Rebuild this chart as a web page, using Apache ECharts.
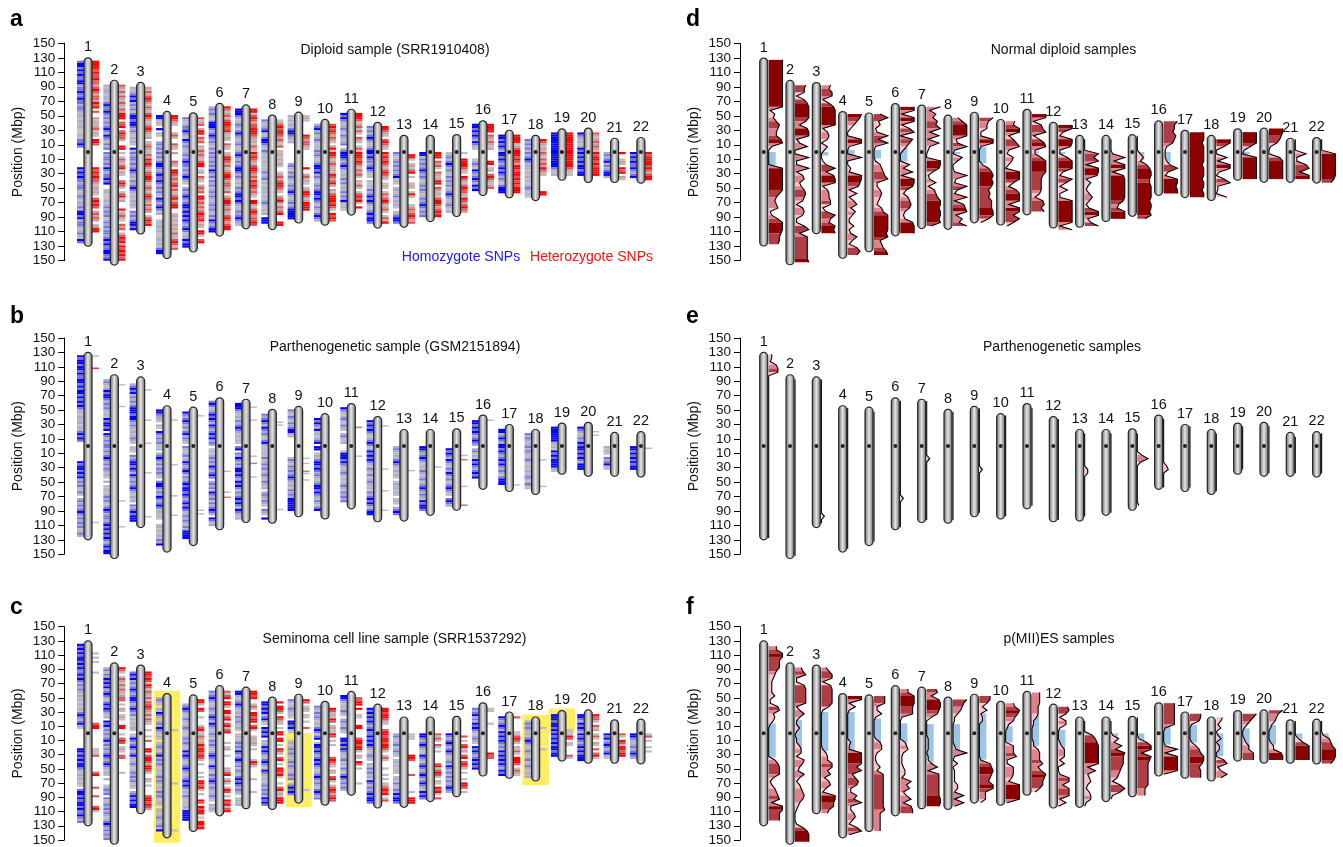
<!DOCTYPE html>
<html><head><meta charset="utf-8"><style>html,body{margin:0;padding:0;background:#fff}#c{width:1343px;height:847px}</style>
<script src="https://cdn.jsdelivr.net/npm/echarts@6/dist/echarts.min.js"></script></head><body><div id="c"></div>
<script>
const chromosomes=[1,2,3,4,5,6,7,8,9,10,11,12,13,14,15,16,17,18,19,20,21,22];
const pArm=[130,99,96,56,54,67,65,51,55,45,59,41,23,23,24,43,30,23,32,33,19,20];
const qArm=[130,156,113,147,138,116,106,107,98,101,87,105,104,96,89,60,63,67,39,42,42,43];
const tickValues=[-150,-130,-110,-90,-70,-50,-30,-10,10,30,50,70,90,110,130,150];
const panelTitles=["Diploid sample (SRR1910408)","Parthenogenetic sample (GSM2151894)","Seminoma cell line sample (SRR1537292)","Normal diploid samples","Parthenogenetic samples","p(MII)ES samples"];
const panelLetters=["a","b","c","d","e","f"];
const legendLabels=["Homozygote SNPs","Heterozygote SNPs"];
// SNP stripes, 3 Mbp per character, "p arm|q arm" (B strong, M medium, L pale, g grey, . none)
const aHom=["BMBBMBMBMMBBLMMBMMBMMLMMLgLgLLgLgggLgMMBM..|.......BMBMBMMLMMLgLMLgLLMLBBMBLMMLgLMLgBMLg","LgLLgLLgMBMMBMLMLMLMBMLBMLgMLM.|MLMMLMLBMLMMBMB..gLgggLgLMLMLMgLMLMLMMLMBMBMMBBMMB","LgLMBMBLMLMgMBBMBBMLMLgLgLg.Bg|MLMMLMLMBMLLgMLMBMLgLgLgLg.MLMLMBBMB","BBgLg.B.Lg..LMLMg|MLMgMBBMLMBMMBMLMLMLgBMLMBMgL..gLgLgLgggLgLgMBB","MLgLMMBMLgBMLMLg|LMLMBMMLMLMBMLg.LMLMBMLMBBMBMBMBMLMBMgLLBMBB","LMLMLgLBBBMLMBMLMLgMg|MLMLMLMLBMLMgMLMgLMLMLgLMLMLgMLBMLMBB","BBBMLgLMLgMBMLgLMLgL|MBMLMLMBBMLMLgLgMLMBBMBMLgLMLMBMLg","MLgLMBLgMBBMLgM|LgLgLgggLMgLMgLgLgLgLgLMLgLgL.BBB.","LgLgLgMBBMLgL....|.....LMLgMLMLgLMLMBMLgLMLMBBBBBM","LMBLMgLMLgLgM|LMLgLMBBMBLMLgLMLMBBMBMLgMLgMBML","BMBMLgLMLgMLgLM.gM|BBBMLMBMLgLgMLMgLgMLMLBLgLg","MLMLMBMLgLMB|BMBMMLMBMLgg.LgLgMLMBMBMLgLMBMBBM","|MLgLMLMLMLMBgLg.gLgLMgLgLg.gLMBBM","|BBgMLMLMBMLMLgLMLMLgLMLMBMLMLM","|gLMLMBMLMLgMLMLMgLMBMLgLMLgLg","BBMBMBMLBMLg.|...gLMLgBMLMBMLBMB","BBMBMBML|BBMBMLMBMBMLMLgMBBB","MLMLMg|MLMBMgLLgLgLgLgLMLgLg","BBBBBBBBB|BBBBBBBMLgL","BMLgLgLBM|BMBMBMBBMBB","|LMLMBLMLMBBL","|BMBMBMMBMLMB"];
const aHet=["BBBBBMBMMBMMLMBMLMMLBMB.M..LgLgLMgLg.BBM...|.......BMBMBMMLgLgLg.MBMBM.LMLML.gLBB","MLgMgMLgMLgMLBBB.MMB.MBMML..BB.|g.gMLgMBgLg..MBMg.gMBgL...BgLMLg.MLM.gMBMBLBMBMBMB","LgMLMBMLgMLgMBMLgLMBMLgL.gLMLg|gMLBMBMLgMMBBMgLMLgMBMLgMLML.gMBMB","BBMLg...LMg..MLg.|L...MLg.BBMLMLMBLMgLMBLMBB..gLgLgLgLgMLgMBMgM","MgLM.LBB.MLM.LgM|LMLgMBB.gL.MLg.LMLM.BBLMLMLMBMMBgLg.BBg.MB","BMgLMgMBBMMBLgLg.MLg.|gLBBMLMgLMBBMLMMLgM.LMBBMLMLgMBMLMBB","BBgMBMLMMBBBMLgLgMLg|BMBMLgMBBMLMLBMBMLMLg.BBLgMBMLMMBML","gLMBMBBMLMLgM.g|gLgLgLg..gLMLMBBMLg.LMBLgMLMB...BB","gLg......BMLMMLg.|.......B..LMgLg.gLBBMgLBBBB","MBMBMLMLg.LBg|BBMgLMLgLgBMLMBL.LgMBBBMBMg.BMBM","BBBMgLMgMg.MLg.gMg|BBBMBMLgMLMg.LgMg.gMBMBg.B","BBMLg.MBMLg.|BMBMBMLgMBMLg.gLg.gMLMBMgLMg.gMLB","|.BBg.gLgMB.g..gLg.gBL...gLMLMBMLM","|BBB.MLMg.MLgLBB.MLgLgMBBMLMBMB","|g..BBBBMLg.BMLgMBMMLgBMLMBMLg","BBBB.MLgMLgL.|....BB.gL.MBMLgLM","BBBBgLMB|BBMBMLBBMBBMBMBMBBB","BMLgLg|MLgMLMLBMLg.......BB","BBBBBBBBB|BBBBBBBMLgg","MLgLMLMLg|BMBBMBMBBBB","|B..gLg.BMB.Lg","|BMBBBBMBMLMBB"];
const bHom=["BMBBMBBMBMMBBMBMBBMBMBMBMLLgLgLLgLgMBMBM..|.......BMBBMBMBLMLMgLMg.LMLMLMBMLMLMLMgLML","LMLgLBMBBMLMLMLgLgBMBBMB.BMLMLM|MLMLMBMLMLMLgLg.L.ggLgLMLMgLMBMLMMLMBMBMBMBMLMBMBB","LMBMBLMLMgMBBBMBBMLMLgLgLMLg.|gLg.MLMBBMBMLBMLMLMBMLgLgL.MLMBMBBB","BBMLLg.Lg.BMLMLMg|gL.LMBMLMgMLMLg.MBBMLMLBMLMBMgLgLg..gLgLgLgMLB","BMLMBMLMgMBLMLg.|MLgLMgLBMLMBMgMLMBMBBMBMLMBMBMgLMLMLgMLBBBB","MBMgLMBMBMLBMLMBMBLML|.gLgLMLMLBMLMBM.LMLMgBMLMgMLMBML.BMgL","BBBMLgLgMLMBMLgLgLg.|MB.MLBMLMLBBMBMLBMBMgMLMBMBMgBMLgLg","MLMBMLBMLMLgMBL|gLgLgMgLMLMgLMLgMLgL.LMLgMLg.MLg.BB.","MLgMLgMLMBBLg....|.....gMLgMLMLMBMLgLgMLMLBBBBBB","BMBMLBgLgLMB.|BB.gLgMBBMBMLMLgLMBBMBMLgMLgMB","BMLgLMLgMLg.LMLgL.|..gBBBMBMLgLMLgLgLMLgMLMLM","BMBMBMLgLMBM|gLBMBMBMLgMLgMgLMLgLgMLMBMBMgMBB","|LMLgLgMBMLgLgLg.gLgLgLg.gLg.LMBM","|BBMLMBMLgLgMLgLMgLMBMLMLgBMBBM","|.BMBMLBMLgMLBMLMgLMBMLg.MBMLB","BBMBMBMLMBML|.LMgLgBMBMLMBMB","BBLMBMLB|BMBMLMBMBMLMLgMBBB","MLMLgL|MLMLgLMLgLgLgLMLgMLg","BBBBBBBLg|LgBMBMBBBBLg","BMLgLMLBM|BBMBMBMLBBB","|LgLg.MLMBLg","|BBMBMBMBMBB"];
const cHom=["BMBMBMBBMBMBMMBMBMLMLMLgLgLgLgLgMBMLMBLg..|.......BBMBMBMBBMLgLgLgLg.MBBMBMBBMBMMBMLMB","LMgMLBMBMBLMBMLgMBMBMLgL.BMBLML|MLMBLMLMLMBMLMBMLgLg.L..gLMLM.MgLMLMLMLgLMBMLMLMLM","MBMBLMLMBMLMBBMLMBMLMgLgLgLg.|gLBMLMBMLMBLgLMLgLMLMLMgLg.LMBMBMBB","LMLg.LgBMLgLMLBML|gLg.gLMLgMBLMLMLgLgLMLMLgLgMLMLgLg.gLgLMLgLMLB","LMBMLgLMLgLMLg|gLMLMLgLBMBMLgLMBMLgLMBMBMgLgMLgLgLgBBBBB","MLMBMLgLMLgMBMLBMLgL|MLgMLMLgLMBMLgLBMLgMLMBMLMLgLMLg.LgLg","BBLgLMBMLgLgMLMLgLg.|gLgLMLMLBMLMBMLMgMLgMBMBMLMLg.gLgLg","BBMBMBLMBLg.BMB|MB.LgLBMBMLgMBMLgBMLgLgLMLMLMLBMBM","MLgLMLgLg.BBMBLg|...gLgLMLMLgLMLMLgLMLM.gMBMBM","MLgMLMLgLgMBM|gMB.gBBMBMLMBMBMLgLMBMLMLgMBMLM","BBMLgLgMLg.LMLgMLg|..BBMBMBMLgLMgLgMLgMBMLMLML","BMBMBMBMLMBM|MBMBMBMLgLMLg.LgMLMgLgBMLMLMBMBBM","|LMLgLMgLMLg.gLgLgLg.gLgMLgMLBMBBMB","|BBMLMBMLgLBMLgMBMLMBMLMBMLgBMBM","|BMLMBMLMBMLgLMLBMLMgMLMLMBMLg","MLMBLMLBMBML|gLMLg.BMBMLMBMBMB","BMLMBMLB|MBMBMLMLBMBMBMBMLBMBB","LMLMLg|LgMBMLgLMLgLMgLMLgLgL","BBBMBBMBM|BMBMBMBBMBB","BBMLBMBML|BMBMLMBMBMBBB","|BMBLMBMLMBLg","|BBMLgLMLMBML"];
const cHet=["....g.g.g....g.......................MBB..|.......gggM.......MB.....M...M....MBg.....g","BMg.gMLgMgMLgLMM.g.Lg.gLg..BB..|g.MBM.gLg.MM......g","BBMBMgBMgMLgMgMMBMLgMgMLg..g.|.g.M...BB.MBBMLBBMg..Lg.g....MBBMBML","...............g.|.......................g.....................g","BBg.BM..g...gMBg|gMLgLBMBBMBMg.g...g.g.BBMBg.g..BM.BMBB.g.BBMBB","MgMB.BBg.BBgMB.MBgMB|....g.gL..g.....LgMB.gMg.gBM.g.BMBgMB","BBMB..gMg.BBMBB.MBg.|.gLgLg.g....gBMg.....g.....g","B.BBMg.BMLg.g.B|B.BB.g.BMg.MB.g.BBMBg..g.MBgLgBBB","BM.gLg.gg.g..M..|..........................g",".BMgLgBM.gLgg|BM.g.g.....MBMLg.Lg.MBg.gMBMLMBM","MMBB.B..gg...BB..|..MBBMBBg.Lg.BM.g......g","BBMBBMLg..MB|BMBBMBBMg.gMg...g..g.g.gLMBMB.gM","|ggg.......BBM......M.......g..BBB","|MgMg.Mg.g.....MBgMBMg.Lg.BMBg.MBM","|.M.g.MBgL.MB.MBMg.g..g.BBM.g.B","gg.....g....|.........BMM","M......g|gMBMg.LgMg.BBBM.gMLg","...g..|.......g",".......gg|gBM.gg....Mg","BMMg.MgL.|gMg.Lg.M.MBg.","|Mg.BMgBBMBB","|gM.g..g.g"];
// Isolated right-hand ticks of panel b: chromosome, Mbp from centromere (p negative), kind
const bHetTicks=[[1,-125,"g"],[1,-108,"R"],[1,106,"g"],[2,-85,"g"],[2,-55,"g"],[2,76,"g"],[2,112,"g"],[3,-78,"g"],[3,-36,"g"],[3,-4,"g"],[3,37,"g"],[3,98,"g"],[4,-36,"g"],[4,26,"g"],[4,69,"g"],[4,96,"g"],[5,-42,"g"],[5,89,"g"],[5,94,"g"],[6,35,"g"],[6,64,"g"],[6,71,"D"],[7,-54,"g"],[7,-36,"g"],[7,14,"g"],[7,24,"D"],[7,43,"g"],[8,-33,"g"],[8,-29,"g"],[8,88,"g"],[9,17,"g"],[9,24,"g"],[9,35,"D"],[9,38,"g"],[9,47,"g"],[11,-26,"D"],[11,14,"g"],[12,-28,"g"],[12,32,"g"],[12,62,"g"],[12,89,"g"],[13,34,"g"],[14,29,"g"],[15,13,"g"],[15,19,"D"],[15,56,"g"],[15,82,"D"],[16,-36,"g"],[17,54,"g"],[18,19,"g"],[18,56,"g"],[20,-20,"g"],[20,-15,"g"],[22,3,"g"]];
// Yellow highlights of panel c: chromosome, from, to (Mbp)
const highlights=[[4,-60,154],[9,0,104],[18,-26,73],[19,-35,0]];
// Density profiles, 5 Mbp per digit (0-9), "p arm|q arm"
const dProfile=["99999999999999143576558920|00009999999754561269998776","7661689999738991380|0911915634676515651169388888889","6577158999991454042|00139389914556613965989","98642009910|09002199871614625311412631686","49341293910|00145679224543256999998945689","9919916908642|00062819984256763238999","9264769281821|009984126156799899893","3699992391|063001921931917892649","9655119910|00026898986768889961","659925792|154209995279992995951","99167915892|26999976666527868","99319981|1699931951611999999919","0000|969199814213531399249","0000|1929918999999854999","00000|2426899889999899895","977687621|112493199899","999899|9998999899899","9950|0719920591107","999951|09999999","9987510|07999999","0000|71179399","0000|999999986"];
const fProfile=["5599777543222241167343100|0000000467773124567299777","4571167777713631131|0113441653263134565321000158999","3577167777751000000|00001344774625631998854","99151000000|00211999969357622649224531691","77722510000|0145521124266666666667444444","5599988810000|00345211123317462472788","6738998730000|011110113718888888998","9765311000|000129103011113317171","77525122000|00000001789876994441","569865210|00055571155542999991","555544431100|00114555746987752","67515510|001244414001773777150","0000|578999999272342134410","0000|1527398887654169610","00000|016993987777777555","777777710|000191999990","776100|0014679986777","43130|1302200571373","975310|01244777","9654210|00133899","0000|02599999","0000|156799986"];
// Panel e peaks: chromosome, Mbp, digit
const ePeaks=[[1,-125,2],[1,-120,1],[1,-110,5],[1,-105,6],[3,96,2],[6,72,2],[7,18,2],[9,34,2],[13,34,2],[13,39,2],[15,13,3],[15,18,7],[15,23,2],[15,82,1],[16,28,2],[16,33,3]];
// No-data (blue) ranges: chromosome, from, to
const dBlue=[[1,0,18],[3,0,5],[4,-3,4],[5,-3,9],[6,-7,13],[8,0,3],[9,-7,16],[11,-1,2],[12,0,3],[15,0,11],[16,0,16],[19,0,3],[21,0,3]];
const fBlue=[[1,-14,34],[2,-19,23],[3,-30,25],[4,-30,25],[5,-21,13],[6,-14,18],[7,-13,43],[8,-13,23],[9,-28,37],[10,-10,13],[11,-26,18],[12,-5,23],[14,0,7],[15,0,11],[16,-10,16],[17,-12,13],[18,0,32],[19,-7,23],[20,-12,16],[21,0,11],[22,0,16]];

const BIN=3, STEP=5;
const blues={B:'#0000ff',M:'#7474dc',L:'#a8a8d4',g:'#bcbcbc'};
const reds={B:'#ff0000',M:'#e25050',L:'#d09a9a',g:'#bcbcbc',R:'#ee3333',D:'#cc7777'};
const heat=['#ffc0cb','#e0808a','#b03c46','#8b0000'];
function heatColor(v){return v>=8.4?heat[3]:v>=5.6?heat[2]:v>=3.6?heat[1]:heat[0];}

function bandData(strings){
  const out=[];
  strings.forEach((s,i)=>{
    const [p,q]=s.split('|');const c=chromosomes[i];
    [...p].forEach((ch,k)=>{const f=-(p.length-k)*BIN;if(ch!=='.'&&f>=-(pArm[i]-3))out.push([c,f,f+BIN,ch]);});
    [...q].forEach((ch,k)=>{const t=(k+1)*BIN;if(ch!=='.'&&t<=qArm[i]-3)out.push([c,t-BIN,t,ch]);});
  });
  return out;
}
function ticksSeries(name,data,side,pal,g){
  return {type:'custom',name,xAxisIndex:g,yAxisIndex:g,z:3,silent:true,animation:false,clip:false,data,
    encode:{x:0,y:[1,2]},
    renderItem(_,api){
      const c=api.value(0),a=api.coord([c,api.value(1)]),b=api.coord([c,api.value(2)]);
      const col=pal[data[_.dataIndex][3]];
      return {type:'rect',shape:{x:side<0?a[0]-11:a[0]+4,y:a[1],width:7,height:b[1]-a[1]},style:{fill:col}};
    }};
}
function chromSeries(g){
  const data=chromosomes.map((c,i)=>[c,-pArm[i],qArm[i]]);
  return {type:'custom',name:'chromosomes'+g,xAxisIndex:g,yAxisIndex:g,z:6,silent:true,animation:false,clip:false,data,
    encode:{x:0,y:[1,2]},
    renderItem(_,api){
      const c=api.value(0),a=api.coord([c,api.value(1)]),b=api.coord([c,api.value(2)]),m=api.coord([c,0]);
      return {type:'group',children:[
        {type:'rect',shape:{x:a[0]-4,y:a[1],width:8,height:b[1]-a[1],r:4},
         style:{fill:new echarts.graphic.LinearGradient(0,0,1,0,[{offset:0,color:'#5e5e5e'},{offset:.5,color:'#e6e6e6'},{offset:1,color:'#5e5e5e'}]),stroke:'#262626',lineWidth:1.2}},
        {type:'circle',shape:{cx:m[0],cy:m[1],r:2},style:{fill:'#222'}},
        {type:'text',style:{text:String(c),x:a[0],y:a[1]-10.5,align:'center',verticalAlign:'middle',fill:'#111',font:'14.5px "Liberation Sans"'}}
      ]};
    }};
}
function parseProfile(s){
  const [p,q]=s.split('|');const nodes=[];
  [...p].forEach((d,k)=>nodes.push([-(p.length-k)*STEP+STEP/2,+d]));
  [...q].forEach((d,k)=>nodes.push([k*STEP+STEP/2,+d]));
  return nodes;
}
function ePeakProfile(i){
  const c=chromosomes[i],nodes=[];
  const np=Math.floor(pArm[i]/STEP),nq=Math.floor(qArm[i]/STEP);
  for(let k=-np;k<nq;k++){
    const y=k*STEP+STEP/2;let v=0;
    ePeaks.forEach(e=>{if(e[0]===c&&Math.abs(e[1]-y)<=STEP/2)v=Math.max(v,e[2]);});
    nodes.push([y,v]);
  }
  return nodes;
}
function profileSeries(nodesList,g){
  return {type:'custom',name:'density'+g,xAxisIndex:g,yAxisIndex:g,z:4,silent:true,animation:false,clip:false,
    data:chromosomes.map((c,i)=>[c,nodesList[i][0][0],nodesList[i][nodesList[i].length-1][0]]),
    encode:{x:0,y:[1,2]},
    renderItem(_,api){
      const c=api.value(0),nodes=nodesList[_.dataIndex];
      const X=api.coord([c,0])[0]+5,W=13.8;
      const pts=nodes.map(n=>[X+n[1]/9*W,api.coord([c,n[0]])[1]]);
      const ch=[];
      let run=null,runCol=null;
      const flush=()=>{if(run){ch.push({type:'polygon',shape:{points:[[X,run[0][1]],...run,[X,run[run.length-1][1]]]},style:{fill:runCol}});run=null;}};
      for(let k=0;k<pts.length-1;k++){
        const v=(nodes[k][1]+nodes[k+1][1])/2;
        if(v<=0){flush();continue;}
        const col=heatColor(v);
        if(run&&col===runCol){run.push(pts[k+1]);}
        else{flush();run=[pts[k],pts[k+1]];runCol=col;}
      }
      flush();
      ch.push({type:'polyline',shape:{points:pts},style:{fill:'none',stroke:'#000',lineWidth:1.1}});
      return {type:'group',children:ch};
    }};
}
function blueSeries(data,g){
  return {type:'custom',name:'nodata'+g,xAxisIndex:g,yAxisIndex:g,z:2,silent:true,animation:false,clip:false,data,
    encode:{x:0,y:[1,2]},
    renderItem(_,api){
      const c=api.value(0),a=api.coord([c,api.value(1)]),b=api.coord([c,api.value(2)]);
      return {type:'rect',shape:{x:a[0]+4.6,y:a[1],width:7.4,height:b[1]-a[1]},style:{fill:'#9cc4e8'}};
    }};
}
function yellowSeries(g){
  return {type:'custom',name:'highlight',xAxisIndex:g,yAxisIndex:g,z:1,silent:true,animation:false,clip:false,data:highlights,
    encode:{x:0,y:[1,2]},
    renderItem(_,api){
      const c=api.value(0),a=api.coord([c-.5,api.value(1)]),b=api.coord([c+.5,api.value(2)]);
      return {type:'rect',shape:{x:a[0],y:a[1],width:b[0]-a[0],height:b[1]-a[1]},style:{fill:'#fdee62'}};
    }};
}
const panelBox=[[64.3,43.3,217.4],[64.3,338,216.2],[64.3,626.7,216.6],[740,43.6,216.8],[740,338,216.2],[740,626.7,216.6]];
const grid=panelBox.map(b=>({left:b[0],top:b[1],width:603,height:b[2],containLabel:false}));
const xAxis=panelBox.map((b,g)=>({gridIndex:g,type:'value',min:.1,max:.1+603/26.33,show:false}));
const yAxis=panelBox.map((b,g)=>({gridIndex:g,type:'value',inverse:true,min:-150,max:150,
  axisLine:{show:true,onZero:false,lineStyle:{color:'#000',width:1}},
  axisTick:{show:true,length:6,inside:false,lineStyle:{color:'#000',width:1},customValues:tickValues},
  axisLabel:{show:true,margin:9,color:'#111',fontFamily:'Liberation Sans',fontSize:13.5,customValues:tickValues,formatter:v=>String(Math.abs(v)),showMinLabel:true,showMaxLabel:true},
  splitLine:{show:false},
  name:'Position (Mbp)',nameLocation:'middle',nameGap:39,nameRotate:90,nameTextStyle:{color:'#111',fontFamily:'Liberation Sans',fontSize:14}}));
const series=[
  yellowSeries(2),
  ticksSeries('Homozygote SNPs a',bandData(aHom),-1,blues,0),
  ticksSeries('Heterozygote SNPs a',bandData(aHet),1,reds,0),
  ticksSeries('Homozygote SNPs b',bandData(bHom),-1,blues,1),
  ticksSeries('Heterozygote SNPs b',bHetTicks.map(t=>[t[0],t[1]-1,t[1]+1,t[2]]),1,reds,1),
  ticksSeries('Homozygote SNPs c',bandData(cHom),-1,blues,2),
  ticksSeries('Heterozygote SNPs c',bandData(cHet),1,reds,2),
  blueSeries(dBlue,3),blueSeries(fBlue,5),
  profileSeries(dProfile.map(parseProfile),3),
  profileSeries(chromosomes.map((c,i)=>ePeakProfile(i)),4),
  profileSeries(fProfile.map(parseProfile),5),
  ...panelBox.map((b,g)=>chromSeries(g))
];
function titleAt(text,x,y,color,size,weight,align){
  return {text,left:x,top:y,padding:0,textAlign:align||'center',textStyle:{color,fontFamily:'Liberation Sans',fontSize:size,fontWeight:weight||'normal'}};
}
const titleCenters=[[395,43],[395,340.5],[394.5,632.5],[1063.5,43],[1062,340.5],[1059,632.5]];
const letterAt=[[10,8],[10,305],[10,596],[686,8],[686,305],[686,596]];
const title=[
  ...panelTitles.map((t,i)=>titleAt(t,titleCenters[i][0],titleCenters[i][1],'#111',14)),
  ...panelLetters.map((t,i)=>titleAt(t,letterAt[i][0],letterAt[i][1],'#000',23,'bold','left')),
  titleAt(legendLabels[0],461,250.5,'#2020e6',14),
  titleAt(legendLabels[1],591.5,250.5,'#f01414',14)
];
const chart=echarts.init(document.getElementById('c'),null,{renderer:'canvas'});
chart.setOption({animation:false,backgroundColor:'#fff',title,grid,xAxis,yAxis,series});
</script></body></html>
